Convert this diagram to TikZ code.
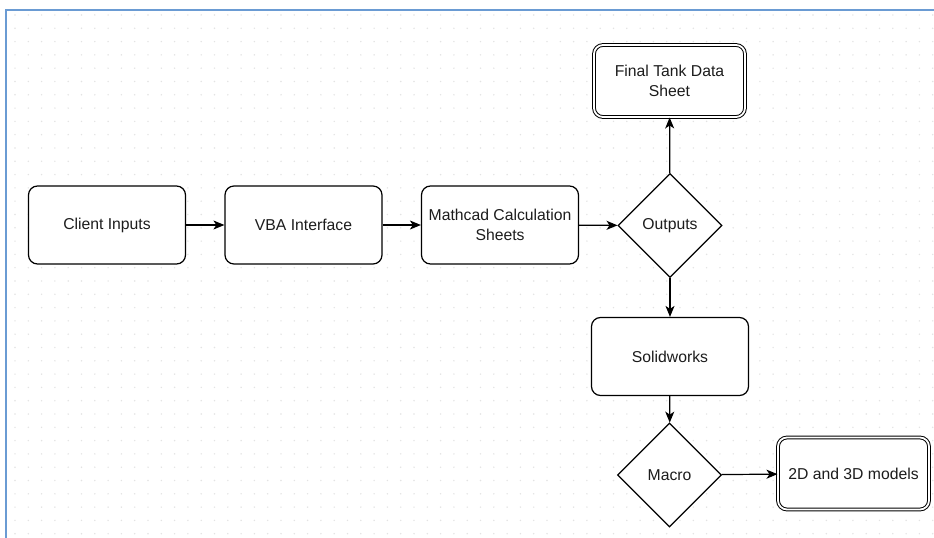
\documentclass[tikz,border=0pt]{standalone}
\usepackage{fontspec}
\setmainfont{Liberation Sans}
\usetikzlibrary{shapes.geometric,arrows.meta}
\definecolor{frameblue}{HTML}{6A9BD3}
\definecolor{griddot}{HTML}{E3E3E3}
\definecolor{txt}{HTML}{1C1C1C}
\begin{document}
\begin{tikzpicture}[x=1bp,y=-1bp,
  every node/.style={font=\fontsize{15.8}{20}\selectfont, text=txt, align=center, inner sep=0pt},
  procbox/.style={draw, line width=1.2bp, rounded corners=9bp, fill=white, minimum width=157bp, minimum height=78bp},
  finalbox/.style={draw, line width=1bp, double, double distance=1.8bp, rounded corners=9bp, fill=white, minimum width=151bp, minimum height=72bp},
  decision/.style={draw, line width=1.2bp, diamond, aspect=1, fill=white, minimum width=104bp, minimum height=104bp},
  flow/.style={line width=1.2bp, -{Stealth[length=11bp, width=9bp, inset=3bp]}}]
\useasboundingbox (0,0) rectangle (934,538);
\fill[white] (0,0) rectangle (934,538);
% grid dots
\foreach \i in {0,...,69}{
  \foreach \j in {0,...,39}{
    \fill[griddot] (15+13.3*\i, 15+13.3*\j) circle (0.8);
  }
}
% frame
\draw[frameblue, line width=2bp] (5.5,538) -- (5.5,10.5) -- (934,10.5);
% nodes
\node[procbox] (client) at (107,225) {Client Inputs};
\node[procbox] (vba) at (303.5,225) {VBA Interface};
\node[procbox] (mathcad) at (500,225) {Mathcad Calculation\\Sheets};
\node[decision] (outputs) at (670,225.5) {Outputs};
\node[finalbox] (final) at (669.5,81) {Final Tank Data\\Sheet};
\node[procbox] (solid) at (670,356.5) {Solidworks};
\node[decision] (macro) at (669.5,475) {Macro};
\node[finalbox] (models) at (853.5,473.5) {2D and 3D models};
% connectors
\draw[flow] (client) -- (vba);
\draw[flow] (vba) -- (mathcad);
\draw[flow] (mathcad) -- (outputs);
\draw[flow] (outputs) -- (final);
\draw[flow] (outputs) -- (solid);
\draw[flow] (solid) -- (macro);
\draw[flow] (macro) -- (models);
\end{tikzpicture}
\end{document}
